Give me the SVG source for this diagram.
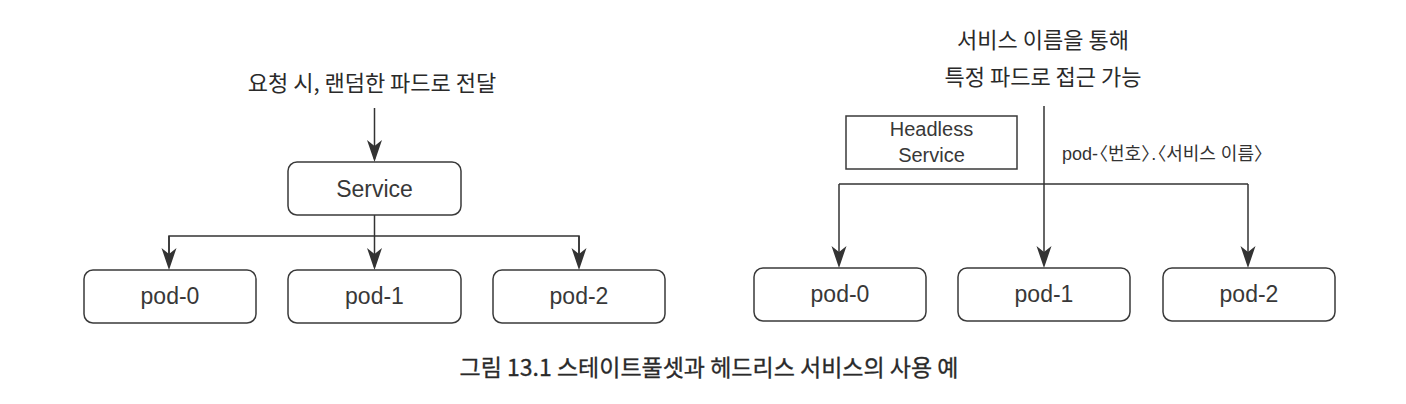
<svg xmlns="http://www.w3.org/2000/svg" width="1406" height="404" viewBox="0 0 1406 404">
<style>
.bg{fill:#ffffff}
.box{fill:#ffffff;stroke:#3a3a3a;stroke-width:1.5}
.ln{fill:none;stroke:#333333;stroke-width:1.5}
.lbl{font-family:"Liberation Sans","Noto Sans CJK KR",sans-serif;font-size:23px;fill:#383838;text-anchor:middle}
.hl{font-family:"Liberation Sans","Noto Sans CJK KR",sans-serif;font-size:20px;fill:#383838;text-anchor:middle}
.kr{font-family:"Noto Sans CJK KR",sans-serif;font-size:22px;fill:#2a2a2a;text-anchor:middle}
.note{font-family:"Liberation Sans","Noto Sans CJK KR",sans-serif;font-size:18px;fill:#333333}
.cap{font-family:"Noto Sans CJK KR",sans-serif;font-size:23px;fill:#2a2a2a;stroke:#2a2a2a;stroke-width:0.3;text-anchor:middle}
</style>
<defs>
<marker id="ah" markerUnits="userSpaceOnUse" markerWidth="26" markerHeight="18" viewBox="-23 -9 26 18" refX="-3" refY="0" orient="auto">
<path d="M0,0 L-22,-7.5 L-16,0 L-22,7.5 Z" fill="#333333"/>
</marker>
</defs>
<rect class="bg" x="0" y="0" width="1406" height="404"/>

<text class="kr" x="372" y="91">요청 시, 랜덤한 파드로 전달</text>
<text class="kr" x="1043" y="48">서비스 이름을 통해</text>
<text class="kr" x="1043" y="85">특정 파드로 접근 가능</text>

<g id="connectors">
<path class="ln" d="M374.5,108 L374.5,159" marker-end="url(#ah)"/>
<path class="ln" d="M374.5,215 L374.5,267" marker-end="url(#ah)"/>
<path class="ln" d="M169,267 L169,236 L579,236 L579,267"/>
<path class="ln" d="M579,236 L579,267" marker-end="url(#ah)"/>
<path class="ln" d="M169,236 L169,267" marker-end="url(#ah)"/>
<path class="ln" d="M1044,106 L1044,265" marker-end="url(#ah)"/>
<path class="ln" d="M839,184 L1248,184"/>
<path class="ln" d="M839,184 L839,265" marker-end="url(#ah)"/>
<path class="ln" d="M1248,184 L1248,265" marker-end="url(#ah)"/>
</g>

<g id="service">
<rect class="box" x="288" y="162" width="173" height="53" rx="9"/>
<text class="lbl" x="374.5" y="197">Service</text>
</g>
<g id="l-pod-0">
<rect class="box" x="84" y="270" width="172" height="53" rx="9"/>
<text class="lbl" x="170" y="304">pod-0</text>
</g>
<g id="l-pod-1">
<rect class="box" x="288" y="270" width="173" height="53" rx="9"/>
<text class="lbl" x="374.5" y="304">pod-1</text>
</g>
<g id="l-pod-2">
<rect class="box" x="493" y="270" width="172" height="53" rx="9"/>
<text class="lbl" x="579" y="304">pod-2</text>
</g>

<g id="headless-service">
<rect class="box" x="846" y="116" width="171" height="53"/>
<text class="hl" x="931.5" y="136">Headless</text>
<text class="hl" x="931.5" y="162">Service</text>
</g>
<text class="note" x="1062" y="160" dx="0 0 0 0 -8 0 0 0 -8 -8">pod-〈번호〉.〈서비스 이름〉</text>

<g id="r-pod-0">
<rect class="box" x="754" y="268" width="172" height="53" rx="9"/>
<text class="lbl" x="840" y="302">pod-0</text>
</g>
<g id="r-pod-1">
<rect class="box" x="958" y="268" width="172" height="53" rx="9"/>
<text class="lbl" x="1044" y="302">pod-1</text>
</g>
<g id="r-pod-2">
<rect class="box" x="1163" y="268" width="172" height="53" rx="9"/>
<text class="lbl" x="1249" y="302">pod-2</text>
</g>

<text class="cap" x="709" y="376">그림 13.1 스테이트풀셋과 헤드리스 서비스의 사용 예</text>
</svg>
